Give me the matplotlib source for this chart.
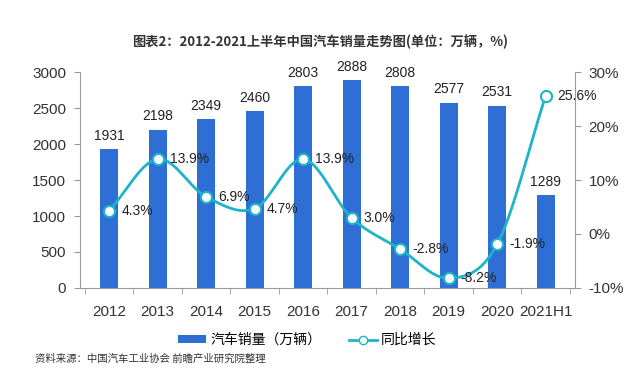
import numpy as np
import matplotlib.pyplot as plt

plt.rcParams['font.family'] = ['Liberation Sans', 'Noto Sans CJK SC', 'DejaVu Sans']

years = ['2012', '2013', '2014', '2015', '2016', '2017', '2018', '2019', '2020', '2021H1']
sales = [1931, 2198, 2349, 2460, 2803, 2888, 2808, 2577, 2531, 1289]
growth = [4.3, 13.9, 6.9, 4.7, 13.9, 3.0, -2.8, -8.2, -1.9, 25.6]


def smooth(xs, ys, n=30):
    # catmull-rom style curve through the points, like excel's smoothed line
    xs = np.asarray(xs, float)
    ys = np.asarray(ys, float)
    px = np.concatenate([[2 * xs[0] - xs[1]], xs, [2 * xs[-1] - xs[-2]]])
    py = np.concatenate([[2 * ys[0] - ys[1]], ys, [2 * ys[-1] - ys[-2]]])
    ox, oy = [], []
    for i in range(1, len(px) - 2):
        t = np.linspace(0, 1, n)
        for p, o in ((px, ox), (py, oy)):
            p0, p1, p2, p3 = p[i - 1], p[i], p[i + 1], p[i + 2]
            o.extend(0.5 * (2 * p1 + (-p0 + p2) * t + (2 * p0 - 5 * p1 + 4 * p2 - p3) * t ** 2
                            + (-p0 + 3 * p1 - 3 * p2 + p3) * t ** 3))
    return np.array(ox), np.array(oy)


bar_c = '#2e6fd6'
line_c = '#1db4c9'
grey = '#9a9a9a'
cjk = ['Noto Sans CJK SC', 'DejaVu Sans']

fig = plt.figure(figsize=(6.4, 3.72), dpi=100)
ax = fig.add_axes([0.125, 0.226, 0.773, 0.58])
x = np.arange(len(years))

ax.bar(x, sales, width=0.37, color=bar_c, label='汽车销量（万辆）', zorder=2)
for xi, v in zip(x, sales):
    ax.text(xi, v + 90, str(v), ha='center', va='bottom', fontsize=10, color='#222222')

ax.set_ylim(0, 3000)
ax.set_xlim(-0.6, len(years) - 0.4)
ax.set_yticks(range(0, 3001, 500))
ax.set_xticks(x)
ax.set_xticklabels(years)
ax.set_xticks(np.arange(-0.5, len(years), 1), minor=True)
ax.tick_params(axis='x', which='major', length=0, pad=12, labelsize=11, colors='#333333')
ax.tick_params(axis='x', which='minor', length=4, color=grey)
ax.tick_params(axis='y', length=4, color=grey, labelsize=11, labelcolor='#333333', pad=6)
for s in ['top', 'right']:
    ax.spines[s].set_visible(False)
ax.spines['left'].set_color(grey)
ax.spines['bottom'].set_color(grey)

ax2 = ax.twinx()
sx, sy = smooth(x, growth)
ax2.plot(sx, sy, color=line_c, lw=2, zorder=3)
ax2.plot(x, growth, ls='none', marker='o', ms=8, mfc='white', mec=line_c, mew=1.5, zorder=4)
ax2.plot([], [], color=line_c, lw=2, marker='o', ms=6, mfc='white', mec=line_c, label='同比增长')
for xi, g in zip(x, growth):
    ax2.text(xi + 0.25, g, f'{g}%', ha='left', va='center', fontsize=10, color='#222222')
ax2.set_ylim(-10, 30)
ax2.set_yticks(range(-10, 31, 10))
ax2.set_yticklabels([f'{t}%' for t in range(-10, 31, 10)])
ax2.tick_params(axis='y', length=4, color=grey, labelsize=11, labelcolor='#333333', pad=6)
for s in ['top', 'left', 'bottom']:
    ax2.spines[s].set_visible(False)
ax2.spines['right'].set_color(grey)

h1, l1 = ax.get_legend_handles_labels()
h2, l2 = ax2.get_legend_handles_labels()
fig.legend(h1 + h2, l1 + l2, loc='center', bbox_to_anchor=(0.48, 0.086), ncol=2, frameon=False,
           prop={'family': cjk, 'size': 10}, handlelength=2.0, handleheight=0.5,
           columnspacing=2.0, handletextpad=0.3)

fig.text(0.5, 0.887, '图表2：2012-2021上半年中国汽车销量走势图(单位：万辆，%)', ha='center', va='center',
         fontsize=9.5, fontweight='bold', color='#333333', family=cjk)
fig.text(0.055, 0.035, '资料来源：中国汽车工业协会 前瞻产业研究院整理', ha='left', va='center',
         fontsize=7.5, color='#333333', family=cjk)

fig.savefig('out.png', dpi=100)
